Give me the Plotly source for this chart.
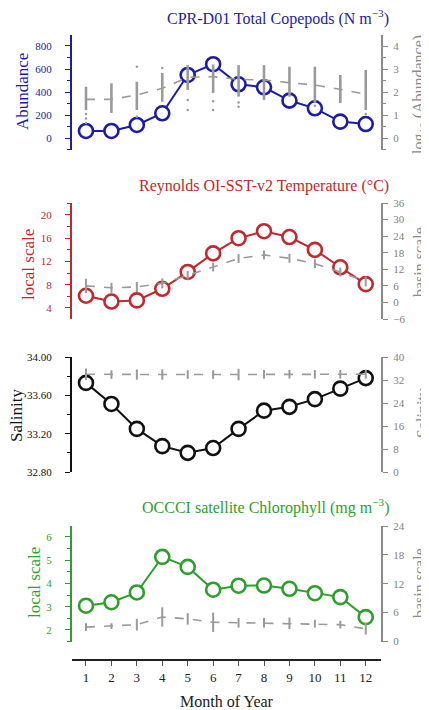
import plotly.graph_objects as go

# ─── Data ────────────────────────────────────────────────────────────
months = list(range(1, 13))
month_labels = [str(m) for m in months]

# CPR total copepods
cop_abund = [64, 64, 116, 217, 549, 642, 468, 442, 327, 260, 145, 124]
cop_log_mean = [1.68, 1.68, 1.87, 2.16, 2.64, 2.67, 2.55, 2.52, 2.41, 2.30, 2.12, 1.90]
cop_log_lo = [1.22, 1.09, 1.22, 1.58, 2.09, 1.96, 1.80, 1.65, 1.80, 1.52, 1.52, 1.22]
cop_log_hi = [2.23, 2.38, 2.45, 2.83, 3.17, 3.20, 3.17, 3.17, 3.10, 3.10, 2.74, 2.96]
cop_out_month = [1, 1, 1, 3, 3, 4, 5, 5, 6, 6, 7, 7, 10, 12]
cop_out_val = [1.05, 0.85, 0.65, 3.10, 0.93, 3.04, 1.65, 1.22, 1.60, 1.22, 1.55, 1.36, 1.40, 1.05]

# Reynolds SST
sst_local = [6.1, 5.1, 5.3, 7.3, 10.2, 13.4, 16.0, 17.2, 16.2, 14.0, 11.0, 8.1]
sst_basin = [6.0, 5.3, 5.6, 6.9, 9.8, 12.8, 15.9, 17.2, 16.0, 14.0, 11.0, 7.6]
sst_basin_err = [2.6, 1.8, 1.8, 1.8, 1.6, 1.6, 1.6, 1.6, 1.6, 1.6, 1.6, 1.8]

# Salinity
sal_local = [33.73, 33.51, 33.25, 33.07, 33.00, 33.05, 33.25, 33.44, 33.48, 33.56, 33.67, 33.78]
sal_basin = [34.0, 33.9, 33.9, 33.9, 33.9, 33.9, 33.9, 34.0, 34.0, 34.0, 34.0, 34.0]
sal_basin_err = [2.0, 1.5, 1.8, 1.8, 1.5, 1.5, 2.0, 1.5, 1.5, 1.5, 1.5, 1.5]

# OCCCI chlorophyll
chl_local = [3.04, 3.19, 3.61, 5.14, 4.71, 3.73, 3.90, 3.91, 3.77, 3.58, 3.41, 2.55]
chl_basin = [3.0, 3.2, 3.5, 5.1, 4.7, 4.0, 3.9, 3.9, 3.8, 3.7, 3.5, 2.65]
chl_basin_err = [0.8, 0.6, 1.2, 2.0, 1.2, 2.0, 1.0, 1.0, 1.2, 0.8, 0.8, 1.2]

BLUE = "#1c1ca8"
RED = "#c0282e"
GREEN = "#2e9e2e"
BLACK = "#111111"
GREY = "#9a9a9a"
AXGREY = "#8a8a8a"
FONT = "Liberation Serif, DejaVu Serif, serif"

# the page body has an 8px margin, so the figure is sized to fit the window
OFF = 8
W, H = 429 - OFF, 710 - OFF
L, R = 72 - OFF, 381 - OFF


def dom(top, bottom):
    # top/bottom given in window pixels
    return [1 - (bottom - OFF) / H, 1 - (top - OFF) / H]


def px_x(x):
    return (x - OFF - L) / (R - L)


def px_y(y):
    return 1 - (y - OFF) / H


fig = go.Figure()


def main_line(y, color, yaxis):
    fig.add_trace(
        go.Scatter(
            x=months, y=y, mode="lines+markers", yaxis=yaxis,
            line=dict(color=color, width=2),
            marker=dict(size=14, color="white", line=dict(color=color, width=2.6)),
        )
    )


def basin_line(y, err, yaxis):
    fig.add_trace(
        go.Scatter(
            x=months, y=y, mode="lines", yaxis=yaxis,
            line=dict(color=GREY, width=1.6, dash="dash"),
            error_y=dict(type="data", array=err, visible=True, color=GREY, thickness=2, width=0),
        )
    )


# ─── Panel 1: copepods ───────────────────────────────────────────────
fig.add_trace(
    go.Scatter(
        x=cop_out_month, y=cop_out_val, mode="markers", yaxis="y2",
        marker=dict(size=2.5, color=GREY),
    )
)
bar_x, bar_y = [], []
for m, lo, hi in zip(months, cop_log_lo, cop_log_hi):
    bar_x += [m, m, None]
    bar_y += [lo, hi, None]
fig.add_trace(
    go.Scatter(x=bar_x, y=bar_y, mode="lines", yaxis="y2",
               line=dict(color=GREY, width=2.6))
)
fig.add_trace(
    go.Scatter(x=months, y=cop_log_mean, mode="lines", yaxis="y2",
               line=dict(color=GREY, width=1.6, dash="dash"))
)
main_line(cop_abund, BLUE, "y")

# ─── Panel 2: SST ────────────────────────────────────────────────────
basin_line(sst_basin, sst_basin_err, "y4")
main_line(sst_local, RED, "y3")

# ─── Panel 3: salinity ───────────────────────────────────────────────
basin_line(sal_basin, sal_basin_err, "y6")
main_line(sal_local, BLACK, "y5")

# ─── Panel 4: chlorophyll ────────────────────────────────────────────
basin_line(chl_basin, chl_basin_err, "y8")
main_line(chl_local, GREEN, "y7")


def left_axis(domain, rng, dtick, color, minor=None, fmt=None):
    d = dict(
        domain=domain, range=rng, dtick=dtick, anchor="x", side="left",
        showline=True, linecolor=color, linewidth=2, ticks="outside", ticklen=5,
        tickcolor=color, tickwidth=1, tickfont=dict(color=color, size=11, family=FONT),
        showgrid=False, zeroline=False, ticklabelstandoff=11, automargin=False,
    )
    if minor:
        d["minor"] = dict(ticks="outside", ticklen=3, dtick=minor, tickcolor=color, showgrid=False)
    if fmt:
        d["tickformat"] = fmt
    return d


def right_axis(overlay, rng, dtick, minor=None):
    d = dict(
        overlaying=overlay, range=rng, dtick=dtick, anchor="x", side="right",
        showline=True, linecolor=AXGREY, linewidth=2, ticks="outside", ticklen=5,
        tickcolor=AXGREY, tickfont=dict(color="#808080", size=11, family=FONT),
        showgrid=False, zeroline=False, ticklabelstandoff=3, automargin=False,
    )
    if minor:
        d["minor"] = dict(ticks="outside", ticklen=3, dtick=minor, tickcolor=AXGREY, showgrid=False)
    return d


anns = []


def ann(text, x, y, color, size=16, angle=0, xanchor="center"):
    anns.append(dict(
        text=text, xref="paper", yref="paper", x=px_x(x), y=px_y(y),
        showarrow=False, textangle=angle, xanchor=xanchor, yanchor="middle",
        font=dict(color=color, size=size, family=FONT),
    ))


ann("CPR-D01 Total Copepods (N m<sup>−3</sup>)", 391, 18, BLUE, 16, xanchor="right")
ann("Reynolds OI-SST-v2 Temperature (°C)", 391, 186, RED, 16, xanchor="right")
ann("OCCCI satellite Chlorophyll (mg m<sup>−3</sup>)", 391, 506, GREEN, 16, xanchor="right")

ann("Abundance", 22, 92, BLUE, 17, -90)
ann("local scale", 28, 265, RED, 17, -90)
ann("Salinity", 16, 415, BLACK, 17, -90)
ann("local scale", 34, 583, GREEN, 17, -90)

ann("log<sub>10</sub> (Abundance)", 419, 95, "#8a8a8a", 16, -90)
ann("basin scale", 419, 262, "#8a8a8a", 16, -90)
ann("Salinity", 423, 413, "#8a8a8a", 16, -90)
ann("basin scale", 419, 583, "#8a8a8a", 16, -90)

fig.update_layout(
    width=W, height=H,
    margin=dict(l=L, r=W - R, t=0, b=0, autoexpand=False),
    paper_bgcolor="white", plot_bgcolor="white",
    showlegend=False,
    font=dict(family=FONT, color=BLACK),
    xaxis=dict(
        range=[0.45, 12.6], tickvals=months, ticktext=month_labels,
        anchor="free", position=px_y(660), automargin=False,
        showline=True, linecolor="#222222", linewidth=2, ticks="outside", ticklen=5,
        tickcolor="#555555", tickfont=dict(size=13, family=FONT, color="#222222"),
        title=dict(text="Month of Year", font=dict(size=16, family=FONT, color="#222222"), standoff=13),
        showgrid=False, zeroline=False,
    ),
    yaxis=left_axis(dom(35, 150), [-101, 895], 200, BLUE, minor=100),
    yaxis2=right_axis("y", [-0.52, 4.48], 1, minor=0.5),
    yaxis3=left_axis(dom(203, 319), [2.1, 22.06], 4, RED, minor=2),
    yaxis4=right_axis("y3", [-6, 36], 6),
    yaxis5=left_axis(dom(357, 472), [32.8, 34.0], 0.4, BLACK, minor=0.2, fmt=".2f"),
    yaxis6=right_axis("y5", [0, 40], 8),
    yaxis7=left_axis(dom(526, 642), [1.48, 6.47], 1, GREEN, minor=0.5),
    yaxis8=right_axis("y7", [-0.1, 24], 6),
    annotations=anns,
)

fig.write_html("out.html")
